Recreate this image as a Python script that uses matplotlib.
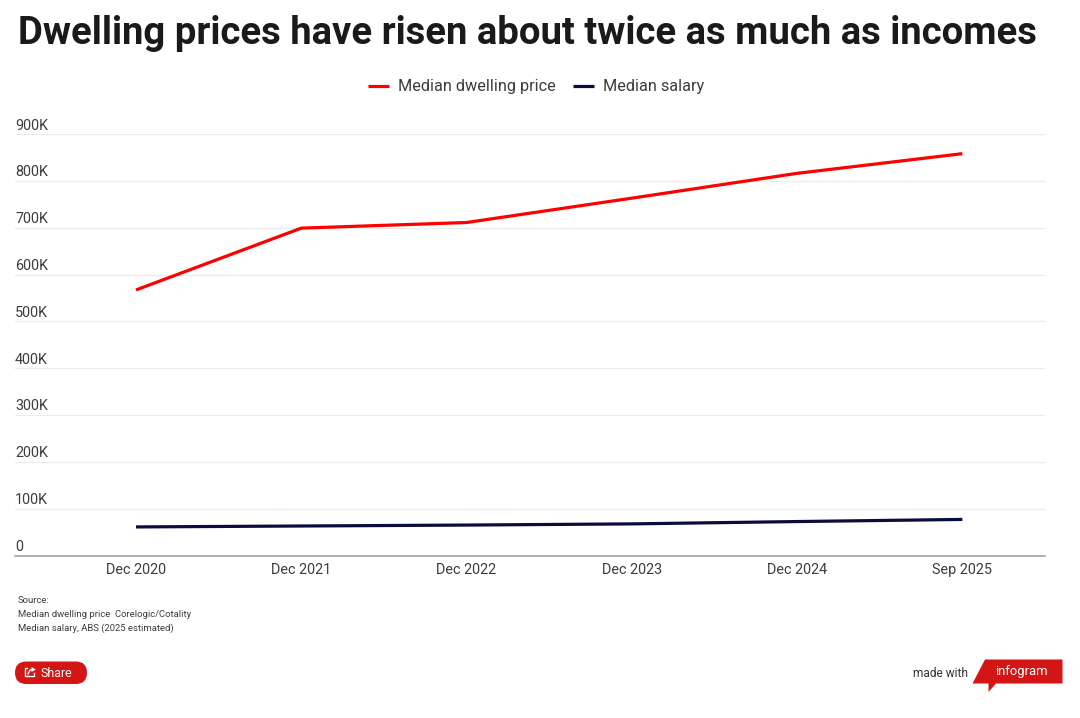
import matplotlib
matplotlib.use("Agg")
import matplotlib.pyplot as plt
from matplotlib.patches import FancyBboxPatch, Polygon
from matplotlib.ticker import FuncFormatter
from matplotlib.transforms import ScaledTranslation

plt.rcParams['font.family'] = ['Roboto', 'DejaVu Sans']

W, H = 1080, 718
TITLE = "Dwelling prices have risen about twice as much as incomes"
categories = ["Dec 2020", "Dec 2021", "Dec 2022", "Dec 2023", "Dec 2024", "Sep 2025"]
dwelling_price = [567000, 699000, 711000, 763000, 816000, 858000]
median_salary = [61000, 63000, 65000, 67500, 72500, 77000]
y_ticks = [0, 100000, 200000, 300000, 400000, 500000, 600000, 700000, 800000, 900000]
source_lines = ["Source:", "Median dwelling price  Corelogic/Cotality", "Median salary, ABS (2025 estimated)"]

RED = "#ff0000"
NAVY = "#0b0b3d"
TEXT = "#3c3c3c"
BRAND = "#d31515"

fig = plt.figure(figsize=(W / 100, H / 100), dpi=100, facecolor="white")

# Plot area, placed in pixel units
left, right, top, bottom = 15, 1045, 134, 555.5
ax = fig.add_axes([left / W, 1 - bottom / H, (right - left) / W, (bottom - top) / H])
x = list(range(len(categories)))
ax.plot(x, dwelling_price, color=RED, lw=2.3, solid_capstyle="butt", solid_joinstyle="round", label="Median dwelling price")
ax.plot(x, median_salary, color=NAVY, lw=2.3, solid_capstyle="butt", solid_joinstyle="round", label="Median salary")
ax.set_xlim(-0.732, 5.5)
ax.set_ylim(0, 900000)
ax.set_xticks(x, categories)
ax.set_yticks(y_ticks)
ax.yaxis.set_major_formatter(FuncFormatter(lambda v, _: "0" if v == 0 else f"{int(v / 1000)}K"))
ax.grid(axis="y", color="#ececec", lw=0.9)
ax.set_axisbelow(True)
for s in ("top", "left", "right"):
    ax.spines[s].set_visible(False)
ax.spines["bottom"].set_color("#9a9a9a")
ax.spines["bottom"].set_linewidth(1.1)
ax.tick_params(axis="x", length=0, pad=5.7, labelsize=10.4, labelcolor=TEXT)
ax.tick_params(axis="y", length=0, pad=0, labelsize=10.4, labelcolor=TEXT)
for lab in ax.get_yticklabels():
    lab.set_horizontalalignment("left")
    lab.set_verticalalignment("bottom")
    lab.set_x(0)
    lab.set_transform(lab.get_transform() + ScaledTranslation(0, 1.5 / 100, fig.dpi_scale_trans))

# Overlay in pixel coordinates for the title, legend, footer and badges
ov = fig.add_axes([0, 0, 1, 1], facecolor="none")
ov.set_xlim(0, W)
ov.set_ylim(H, 0)
ov.axis("off")

ov.text(527, 34, TITLE, ha="center", va="center", fontsize=27.55, fontweight="bold", color="#1a1a1a")

# Legend
ov.plot([368, 389], [85.5, 85.5], color=RED, lw=2.3, solid_capstyle="butt")
ov.text(398, 86, "Median dwelling price", ha="left", va="center", fontsize=11.7, color=TEXT)
ov.plot([573, 594], [85.5, 85.5], color=NAVY, lw=2.3, solid_capstyle="butt")
ov.text(603, 86, "Median salary", ha="left", va="center", fontsize=11.7, color=TEXT)

# Source note
for yy, line in zip([600.5, 614.5, 628.5], source_lines):
    ov.text(18, yy, line, ha="left", va="center", fontsize=6.8, color=TEXT)

# Share button
ov.add_patch(FancyBboxPatch((15, 661.5), 72, 22.5, boxstyle="round,pad=0,rounding_size=11.2",
                            fc=BRAND, ec="none"))
ov.plot([27, 24.5, 24.5, 34, 34], [668, 668, 676, 676, 672.5], color="white", lw=1.0)
ov.plot([28, 30, 34.5], [674, 670, 669.5], color="white", lw=1.0)
ov.add_patch(Polygon([[31.5, 667], [35.5, 669.5], [31.5, 672]], fc="white", ec="none"))
ov.text(40.5, 673.5, "Share", ha="left", va="center", fontsize=8.9, color="white")

# Brand badge
ov.text(968, 673.5, "made with", ha="right", va="center", fontsize=8.6, color="#333333")
ov.add_patch(Polygon([[985, 659.5], [1062.5, 659.5], [1062.5, 683.5], [996, 683.5],
                      [988.5, 692], [988.5, 683.5], [972.5, 683.5]], fc=BRAND, ec="none"))
ov.text(1021.5, 671.5, "infogram", ha="center", va="center", fontsize=9.4, color="white")

fig.savefig("out.png", dpi=100, facecolor="white")
